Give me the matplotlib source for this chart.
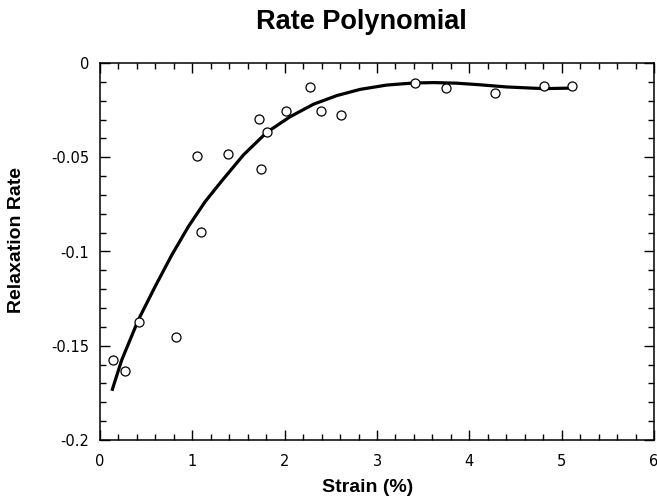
import matplotlib
matplotlib.use("Agg")
import matplotlib.pyplot as plt
from matplotlib.ticker import MultipleLocator, FuncFormatter

# Measured data points
strain = [0.137, 0.274, 0.426, 0.823, 1.054, 1.094, 1.39, 1.726, 1.744, 1.806,
          2.01, 2.275, 2.39, 2.615, 3.416, 3.745, 4.28, 4.81, 5.117]
rate = [-0.1576, -0.1634, -0.1372, -0.1454, -0.0492, -0.0897, -0.0483, -0.0295,
        -0.0564, -0.0364, -0.0253, -0.0129, -0.0253, -0.0278, -0.0104, -0.0134,
        -0.0161, -0.0120, -0.0122]

# Polynomial fit curve
fit_x = [0.134, 0.235, 0.415, 0.596, 0.777, 0.957, 1.138, 1.318, 1.553, 1.806,
         2.059, 2.311, 2.564, 2.817, 3.106, 3.395, 3.62, 3.86, 4.10, 4.40,
         4.80, 5.12]
fit_y = [-0.1731, -0.1576, -0.1363, -0.1187, -0.1019, -0.0868, -0.0736, -0.0626,
         -0.0488, -0.0368, -0.0285, -0.0219, -0.0173, -0.0140, -0.0117, -0.0106,
         -0.0104, -0.0107, -0.0115, -0.0127, -0.0136, -0.0133]

plt.rcParams['font.family'] = ['Liberation Sans', 'DejaVu Sans']

fig = plt.figure(figsize=(6.57, 5.0), dpi=100)
ax = fig.add_axes([100/657, 1-440/500, 554/657, 377/500])

ax.plot(fit_x, fit_y, color='black', lw=2.3, zorder=2, solid_joinstyle='round')
ax.plot(strain, rate, linestyle='none', marker='o', markersize=6.5,
        markerfacecolor='white', markeredgecolor='black', markeredgewidth=0.9, zorder=3)

ax.set_xlim(0, 6)
ax.set_ylim(-0.2, 0)
ax.xaxis.set_major_locator(MultipleLocator(1))
ax.xaxis.set_minor_locator(MultipleLocator(0.2))
ax.yaxis.set_major_locator(MultipleLocator(0.05))
ax.yaxis.set_minor_locator(MultipleLocator(0.01))

def yfmt(v, pos):
    if abs(v) < 1e-12:
        return '0'
    return ('%.2f' % v).rstrip('0')
ax.yaxis.set_major_formatter(FuncFormatter(yfmt))
ax.xaxis.set_major_formatter(FuncFormatter(lambda v, p: '%d' % round(v)))

ax.tick_params(which='both', direction='in', top=True, right=True, width=1, labelsize=10.5)
ax.tick_params(which='major', length=7)
ax.tick_params(which='minor', length=4)
ax.tick_params(axis='x', which='major', pad=10)
ax.tick_params(axis='y', which='major', pad=8)
for lab in ax.get_xticklabels() + ax.get_yticklabels():
    lab.set_family('DejaVu Sans')
for s in ax.spines.values():
    s.set_linewidth(1.1)

fig.text(361/657, 1-22/500, 'Rate Polynomial', ha='center', va='center',
         fontsize=19.5, fontweight='bold')
fig.text(368/657, 1-488/500, 'Strain (%)', ha='center', va='center',
         fontsize=14, fontweight='bold')
fig.text(17/657, 1-240/500, 'Relaxation Rate', ha='center', va='center',
         rotation=90, fontsize=14, fontweight='bold')

fig.savefig('out.png', dpi=100)
